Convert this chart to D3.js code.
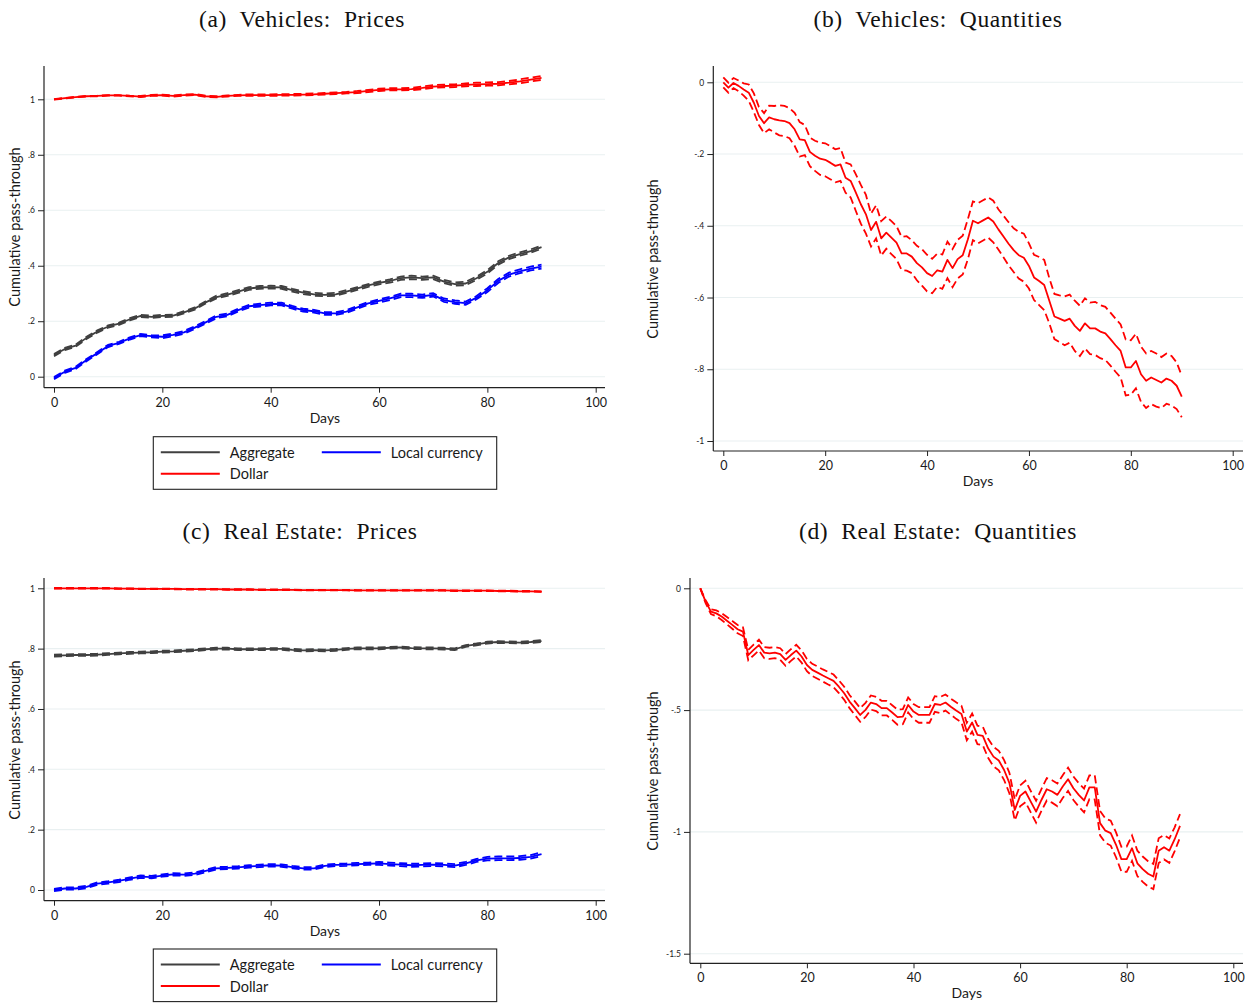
<!DOCTYPE html>
<html>
<head>
<meta charset="utf-8">
<script src="https://cdn.jsdelivr.net/npm/d3@7"></script>
<style>
  body { margin: 0; background: #ffffff; }
  svg { display: block; }
  text { font-family: Lato, "Open Sans", sans-serif; fill: #1a1a1a; }
  .title { font-family: "Liberation Serif", "DejaVu Serif", serif; white-space: pre; fill: #111; letter-spacing: 0.6px; }
</style>
</head>
<body>
<svg id="fig" width="1254" height="1003"></svg>
<script>
// ---------------- data ----------------
// Horizon (days after the shock)
const daysEven = d3.range(0, 91, 2);   // price panels: every second day
const daysAll = d3.range(0, 91);       // quantity panels: daily

// (a) Vehicles: prices — cumulative pass-through by invoicing currency
const vehPriceAggregate = [0.078,0.100,0.112,0.140,0.163,0.181,0.191,0.207,0.219,0.216,0.219,0.220,0.232,0.246,0.268,0.287,0.296,0.307,0.318,0.322,0.323,0.322,0.312,0.303,0.297,0.295,0.297,0.307,0.318,0.329,0.338,0.345,0.355,0.358,0.355,0.358,0.343,0.334,0.336,0.355,0.378,0.410,0.430,0.442,0.453,0.467];
const vehPriceLocal = [-0.005,0.018,0.032,0.060,0.085,0.111,0.122,0.138,0.150,0.146,0.144,0.151,0.160,0.177,0.196,0.216,0.223,0.240,0.254,0.258,0.262,0.262,0.250,0.240,0.236,0.228,0.228,0.235,0.250,0.264,0.273,0.282,0.293,0.293,0.290,0.295,0.276,0.269,0.265,0.285,0.312,0.345,0.368,0.380,0.390,0.397];
const vehPriceDollar = [1.000,1.004,1.008,1.011,1.012,1.014,1.014,1.012,1.010,1.014,1.015,1.012,1.015,1.017,1.011,1.009,1.012,1.014,1.015,1.015,1.015,1.016,1.016,1.017,1.018,1.020,1.022,1.024,1.026,1.030,1.034,1.036,1.036,1.037,1.041,1.046,1.048,1.049,1.052,1.054,1.055,1.056,1.060,1.065,1.071,1.077];
// half-widths of the 95% confidence bands
const vehPriceAggregateCI = [0.004,0.004,0.004,0.004,0.004,0.004,0.004,0.004,0.004,0.004,0.004,0.004,0.004,0.004,0.004,0.005,0.005,0.005,0.005,0.005,0.005,0.005,0.005,0.005,0.005,0.005,0.005,0.005,0.005,0.005,0.005,0.006,0.006,0.006,0.006,0.006,0.006,0.006,0.006,0.006,0.006,0.006,0.006,0.006,0.006,0.006];
const vehPriceLocalCI = [0.004,0.004,0.004,0.004,0.004,0.004,0.004,0.004,0.004,0.004,0.005,0.005,0.005,0.005,0.005,0.005,0.005,0.005,0.005,0.005,0.005,0.005,0.005,0.005,0.005,0.005,0.005,0.005,0.005,0.005,0.006,0.006,0.006,0.006,0.006,0.006,0.006,0.006,0.006,0.006,0.007,0.007,0.007,0.007,0.007,0.007];
const vehPriceDollarCI = [0.001,0.001,0.001,0.001,0.001,0.001,0.001,0.001,0.002,0.002,0.002,0.002,0.002,0.002,0.002,0.002,0.002,0.002,0.003,0.003,0.003,0.003,0.003,0.003,0.003,0.003,0.003,0.003,0.004,0.004,0.004,0.004,0.004,0.004,0.005,0.005,0.005,0.005,0.005,0.006,0.006,0.006,0.006,0.007,0.007,0.007];

// (b) Vehicles: quantities
const vehQty = [0,-0.015,-0.002,-0.010,-0.020,-0.029,-0.057,-0.094,-0.114,-0.098,
  -0.103,-0.106,-0.108,-0.114,-0.131,-0.159,-0.161,-0.194,-0.205,-0.213,
  -0.216,-0.224,-0.233,-0.229,-0.266,-0.275,-0.307,-0.340,-0.368,-0.412,
  -0.389,-0.435,-0.419,-0.433,-0.447,-0.477,-0.477,-0.486,-0.504,-0.516,
  -0.532,-0.540,-0.524,-0.528,-0.495,-0.518,-0.493,-0.482,-0.438,-0.386,
  -0.393,-0.385,-0.377,-0.388,-0.410,-0.430,-0.450,-0.468,-0.482,-0.489,
  -0.512,-0.544,-0.554,-0.565,-0.609,-0.653,-0.659,-0.665,-0.659,-0.679,
  -0.693,-0.672,-0.686,-0.686,-0.695,-0.700,-0.716,-0.733,-0.749,-0.795,
  -0.795,-0.777,-0.814,-0.832,-0.823,-0.830,-0.837,-0.826,-0.832,-0.846,
  -0.876];
const vehQtyCI = [0.014,0.014,0.014,0.015,0.017,0.023,0.026,0.025,0.028,0.033,
  0.037,0.042,0.042,0.042,0.046,0.048,0.042,0.040,0.042,0.045,
  0.046,0.046,0.046,0.046,0.042,0.046,0.051,0.054,0.054,0.046,
  0.046,0.048,0.045,0.046,0.046,0.046,0.048,0.046,0.048,0.051,
  0.051,0.048,0.046,0.048,0.051,0.053,0.054,0.054,0.056,0.054,
  0.056,0.056,0.056,0.058,0.056,0.058,0.060,0.061,0.065,0.067,
  0.063,0.063,0.067,0.070,0.063,0.063,0.065,0.068,0.067,0.070,
  0.070,0.070,0.072,0.074,0.074,0.074,0.074,0.074,0.074,0.078,
  0.076,0.076,0.077,0.076,0.074,0.074,0.071,0.070,0.069,0.065,
  0.058];

// (c) Real estate: prices
const rePriceAggregate = [0.777,0.778,0.779,0.779,0.780,0.782,0.784,0.786,0.787,0.788,0.790,0.791,0.793,0.795,0.798,0.800,0.800,0.798,0.798,0.798,0.799,0.799,0.796,0.794,0.795,0.794,0.796,0.799,0.801,0.801,0.801,0.803,0.804,0.802,0.801,0.801,0.800,0.798,0.809,0.814,0.820,0.822,0.821,0.820,0.822,0.825];
const rePriceLocal = [0.000,0.005,0.005,0.010,0.021,0.025,0.030,0.038,0.044,0.043,0.048,0.052,0.051,0.054,0.063,0.072,0.073,0.075,0.078,0.080,0.082,0.081,0.076,0.072,0.072,0.080,0.083,0.084,0.086,0.087,0.088,0.086,0.084,0.082,0.083,0.084,0.083,0.081,0.088,0.098,0.104,0.105,0.105,0.106,0.110,0.119];
const rePriceDollar = [1.000,1.000,1.000,1.000,1.000,1.000,0.999,0.999,0.998,0.998,0.998,0.998,0.997,0.997,0.997,0.997,0.996,0.996,0.996,0.995,0.995,0.995,0.995,0.994,0.994,0.994,0.994,0.994,0.993,0.993,0.993,0.993,0.993,0.993,0.993,0.993,0.993,0.992,0.992,0.992,0.992,0.991,0.991,0.990,0.990,0.989];
const rePriceAggregateCI = [0.003,0.003,0.003,0.003,0.003,0.003,0.003,0.003,0.003,0.003,0.003,0.003,0.003,0.003,0.003,0.003,0.003,0.003,0.003,0.003,0.003,0.003,0.003,0.003,0.003,0.003,0.003,0.003,0.003,0.003,0.003,0.003,0.003,0.003,0.003,0.003,0.003,0.003,0.003,0.003,0.003,0.003,0.003,0.003,0.003,0.003];
const rePriceLocalCI = [0.004,0.004,0.004,0.004,0.004,0.004,0.004,0.004,0.004,0.004,0.004,0.004,0.004,0.004,0.004,0.004,0.004,0.004,0.004,0.004,0.004,0.004,0.004,0.004,0.004,0.004,0.004,0.004,0.004,0.004,0.005,0.005,0.005,0.005,0.005,0.005,0.005,0.005,0.005,0.005,0.006,0.006,0.006,0.006,0.006,0.006];
const rePriceDollarCI = [0.001,0.001,0.001,0.001,0.001,0.001,0.001,0.001,0.001,0.001,0.001,0.001,0.001,0.001,0.001,0.001,0.001,0.001,0.001,0.001,0.001,0.001,0.001,0.001,0.001,0.001,0.001,0.001,0.001,0.001,0.001,0.001,0.001,0.001,0.001,0.001,0.001,0.001,0.001,0.001,0.001,0.001,0.001,0.001,0.001,0.001];

// (d) Real estate: quantities
const reQty = [0,-0.055,-0.096,-0.103,-0.116,-0.133,-0.150,-0.168,-0.178,-0.274,
  -0.253,-0.233,-0.264,-0.267,-0.264,-0.270,-0.294,-0.274,-0.256,-0.280,
  -0.315,-0.335,-0.346,-0.358,-0.369,-0.380,-0.404,-0.431,-0.465,-0.492,
  -0.520,-0.499,-0.469,-0.475,-0.492,-0.492,-0.510,-0.529,-0.527,-0.479,
  -0.506,-0.520,-0.520,-0.520,-0.475,-0.479,-0.469,-0.486,-0.502,-0.516,
  -0.588,-0.551,-0.602,-0.606,-0.657,-0.691,-0.707,-0.746,-0.800,-0.910,
  -0.852,-0.834,-0.876,-0.917,-0.869,-0.825,-0.834,-0.848,-0.814,-0.784,
  -0.821,-0.848,-0.871,-0.817,-0.817,-0.964,-0.995,-1.005,-1.053,-1.112,
  -1.112,-1.067,-1.129,-1.153,-1.172,-1.183,-1.077,-1.063,-1.077,-1.030,
  -0.975];
const reQtyCI = [0.000,0.006,0.010,0.012,0.014,0.015,0.016,0.017,0.018,0.021,
  0.022,0.022,0.023,0.023,0.023,0.024,0.024,0.024,0.024,0.025,
  0.025,0.025,0.025,0.025,0.026,0.026,0.026,0.027,0.027,0.028,
  0.028,0.029,0.029,0.029,0.030,0.030,0.030,0.031,0.031,0.031,
  0.031,0.032,0.032,0.032,0.032,0.033,0.033,0.033,0.034,0.034,
  0.036,0.037,0.038,0.038,0.039,0.040,0.040,0.041,0.042,0.043,
  0.043,0.044,0.044,0.045,0.045,0.046,0.046,0.047,0.047,0.048,
  0.048,0.048,0.049,0.049,0.050,0.050,0.050,0.051,0.051,0.051,
  0.052,0.052,0.052,0.052,0.052,0.052,0.051,0.050,0.050,0.049,
  0.048];

// axis ticks
const xTicks = [0, 20, 40, 60, 80, 100];
const priceTicks = [0, 0.2, 0.4, 0.6, 0.8, 1];
const priceTickLabels = ["0", ".2", ".4", ".6", ".8", "1"];
const vehQtyTicks = [0, -0.2, -0.4, -0.6, -0.8, -1];
const vehQtyTickLabels = ["0", "-.2", "-.4", "-.6", "-.8", "-1"];
const reQtyTicks = [0, -0.5, -1, -1.5];
const reQtyTickLabels = ["0", "-.5", "-1", "-1.5"];

const seriesNames = ["Aggregate", "Local currency", "Dollar"];
const seriesColors = { "Aggregate": "#404040", "Local currency": "#0000ff", "Dollar": "#ff0000" };

// ---------------- drawing ----------------
const svg = d3.select("#fig");

function pack(days, est, ci) {
  return days.map((d, i) => ({ day: d, est: est[i], lo: est[i] - ci[i], hi: est[i] + ci[i] }));
}

function drawPanel(p) {
  const g = svg.append("g");
  const x = d3.scaleLinear().domain([0, 100]).range(p.xRange);
  const y = d3.scaleLinear().domain(p.yDomain).range(p.yRange);

  // horizontal grid
  g.append("g").selectAll("line").data(p.yTicks).join("line")
    .attr("x1", p.left).attr("x2", p.right)
    .attr("y1", d => y(d)).attr("y2", d => y(d))
    .attr("stroke", "#e9f0f1").attr("stroke-width", 1.1);

  // y axis
  const yAxis = d3.axisLeft(y).tickValues(p.yTicks)
    .tickFormat((d, i) => p.yTickLabels[i]).tickSize(6).tickPadding(3);
  const ya = g.append("g").attr("transform", `translate(${p.left},0)`).call(yAxis);
  ya.select(".domain").remove();
  ya.selectAll(".tick line").attr("stroke", "#222");
  ya.selectAll(".tick text").attr("font-size", 8.5).attr("font-family", "Lato").attr("fill", "#222");
  g.append("line").attr("x1", p.left).attr("x2", p.left).attr("y1", p.top).attr("y2", p.bottom)
    .attr("stroke", "#222").attr("stroke-width", 1.2);

  // x axis
  const xAxis = d3.axisBottom(x).tickValues(xTicks).tickSize(5).tickPadding(5);
  const xa = g.append("g").attr("transform", `translate(0,${p.bottom})`).call(xAxis);
  xa.select(".domain").remove();
  xa.selectAll(".tick line").attr("stroke", "#222");
  xa.selectAll(".tick text").attr("font-size", 12.5).attr("font-family", "Lato").attr("fill", "#222");
  g.append("line").attr("x1", p.left).attr("x2", p.right).attr("y1", p.bottom).attr("y2", p.bottom)
    .attr("stroke", "#222").attr("stroke-width", 1.2);

  // axis titles
  g.append("text").attr("x", (p.xRange[0] + p.xRange[1]) / 2).attr("y", p.bottom + 35)
    .attr("text-anchor", "middle").attr("font-size", 14).text("Days");
  g.append("text")
    .attr("transform", `translate(${p.yLabelX},${p.yLabelY}) rotate(-90)`)
    .attr("text-anchor", "middle").attr("dominant-baseline", "central")
    .attr("font-size", 14.5).text("Cumulative pass-through");

  // panel title
  svg.append("text").attr("class", "title").attr("x", p.titleX).attr("y", p.titleY)
    .attr("text-anchor", "middle").attr("font-size", 23.5).text(p.title);

  // series: solid estimate with dashed confidence bounds
  const line = key => d3.line().x(d => x(d.day)).y(d => y(d[key]));
  p.series.forEach(s => {
    const sg = g.append("g");
    ["lo", "hi"].forEach(k => {
      sg.append("path").datum(s.data).attr("d", line(k))
        .attr("fill", "none").attr("stroke", s.color).attr("stroke-width", 1.8)
        .attr("stroke-dasharray", "8,4");
    });
    sg.append("path").datum(s.data).attr("d", line("est"))
      .attr("fill", "none").attr("stroke", s.color).attr("stroke-width", 1.8)
      .attr("stroke-linejoin", "round");
  });

  // legend
  if (p.legend) {
    const L = p.legend;
    const lg = svg.append("g").attr("transform", `translate(${L.x},${L.y})`);
    lg.append("rect").attr("width", L.w).attr("height", L.h)
      .attr("fill", "#fff").attr("stroke", "#222").attr("stroke-width", 1.1);
    const pos = [[7.5, 15.5], [168.5, 15.5], [7.5, 37]];
    seriesNames.forEach((name, i) => {
      const [lx, ly] = pos[i];
      lg.append("line").attr("x1", lx).attr("x2", lx + 59).attr("y1", ly).attr("y2", ly)
        .attr("stroke", seriesColors[name]).attr("stroke-width", 2);
      lg.append("text").attr("x", lx + 69).attr("y", ly + 5.5)
        .attr("font-size", 14.5).text(name);
    });
  }
}

const priceSeries = (agg, aggCI, loc, locCI, dol, dolCI) => [
  { color: seriesColors["Aggregate"], data: pack(daysEven, agg, aggCI) },
  { color: seriesColors["Local currency"], data: pack(daysEven, loc, locCI) },
  { color: seriesColors["Dollar"], data: pack(daysEven, dol, dolCI) }
];

drawPanel({
  title: "(a)  Vehicles:  Prices", titleX: 302, titleY: 27,
  xRange: [54, 595.7], yDomain: [0, 1], yRange: [376.7, 99.3],
  left: 44, right: 605, top: 66, bottom: 387.7,
  yTicks: priceTicks, yTickLabels: priceTickLabels,
  yLabelX: 14, yLabelY: 227,
  series: priceSeries(vehPriceAggregate, vehPriceAggregateCI, vehPriceLocal, vehPriceLocalCI, vehPriceDollar, vehPriceDollarCI),
  legend: { x: 153.3, y: 436.7, w: 343.4, h: 52.6 }
});

drawPanel({
  title: "(b)  Vehicles:  Quantities", titleX: 938, titleY: 27,
  xRange: [723.3, 1232.7], yDomain: [0, -1], yRange: [82.3, 441],
  left: 713.3, right: 1243, top: 66, bottom: 451,
  yTicks: vehQtyTicks, yTickLabels: vehQtyTickLabels,
  yLabelX: 652, yLabelY: 259,
  series: [{ color: seriesColors["Dollar"], data: pack(daysAll, vehQty, vehQtyCI) }]
});

drawPanel({
  title: "(c)  Real Estate:  Prices", titleX: 300, titleY: 539,
  xRange: [54, 595.7], yDomain: [0, 1], yRange: [890, 588.3],
  left: 44, right: 605, top: 578, bottom: 900.7,
  yTicks: priceTicks, yTickLabels: priceTickLabels,
  yLabelX: 14, yLabelY: 740,
  series: priceSeries(rePriceAggregate, rePriceAggregateCI, rePriceLocal, rePriceLocalCI, rePriceDollar, rePriceDollarCI),
  legend: { x: 153.3, y: 949, w: 343.4, h: 52.6 }
});

drawPanel({
  title: "(d)  Real Estate:  Quantities", titleX: 938, titleY: 539,
  xRange: [700.3, 1233.3], yDomain: [0, -1.5], yRange: [588.3, 953.7],
  left: 690, right: 1243, top: 578, bottom: 963.3,
  yTicks: reQtyTicks, yTickLabels: reQtyTickLabels,
  yLabelX: 652, yLabelY: 771,
  series: [{ color: seriesColors["Dollar"], data: pack(daysAll, reQty, reQtyCI) }]
});
</script>
</body>
</html>
